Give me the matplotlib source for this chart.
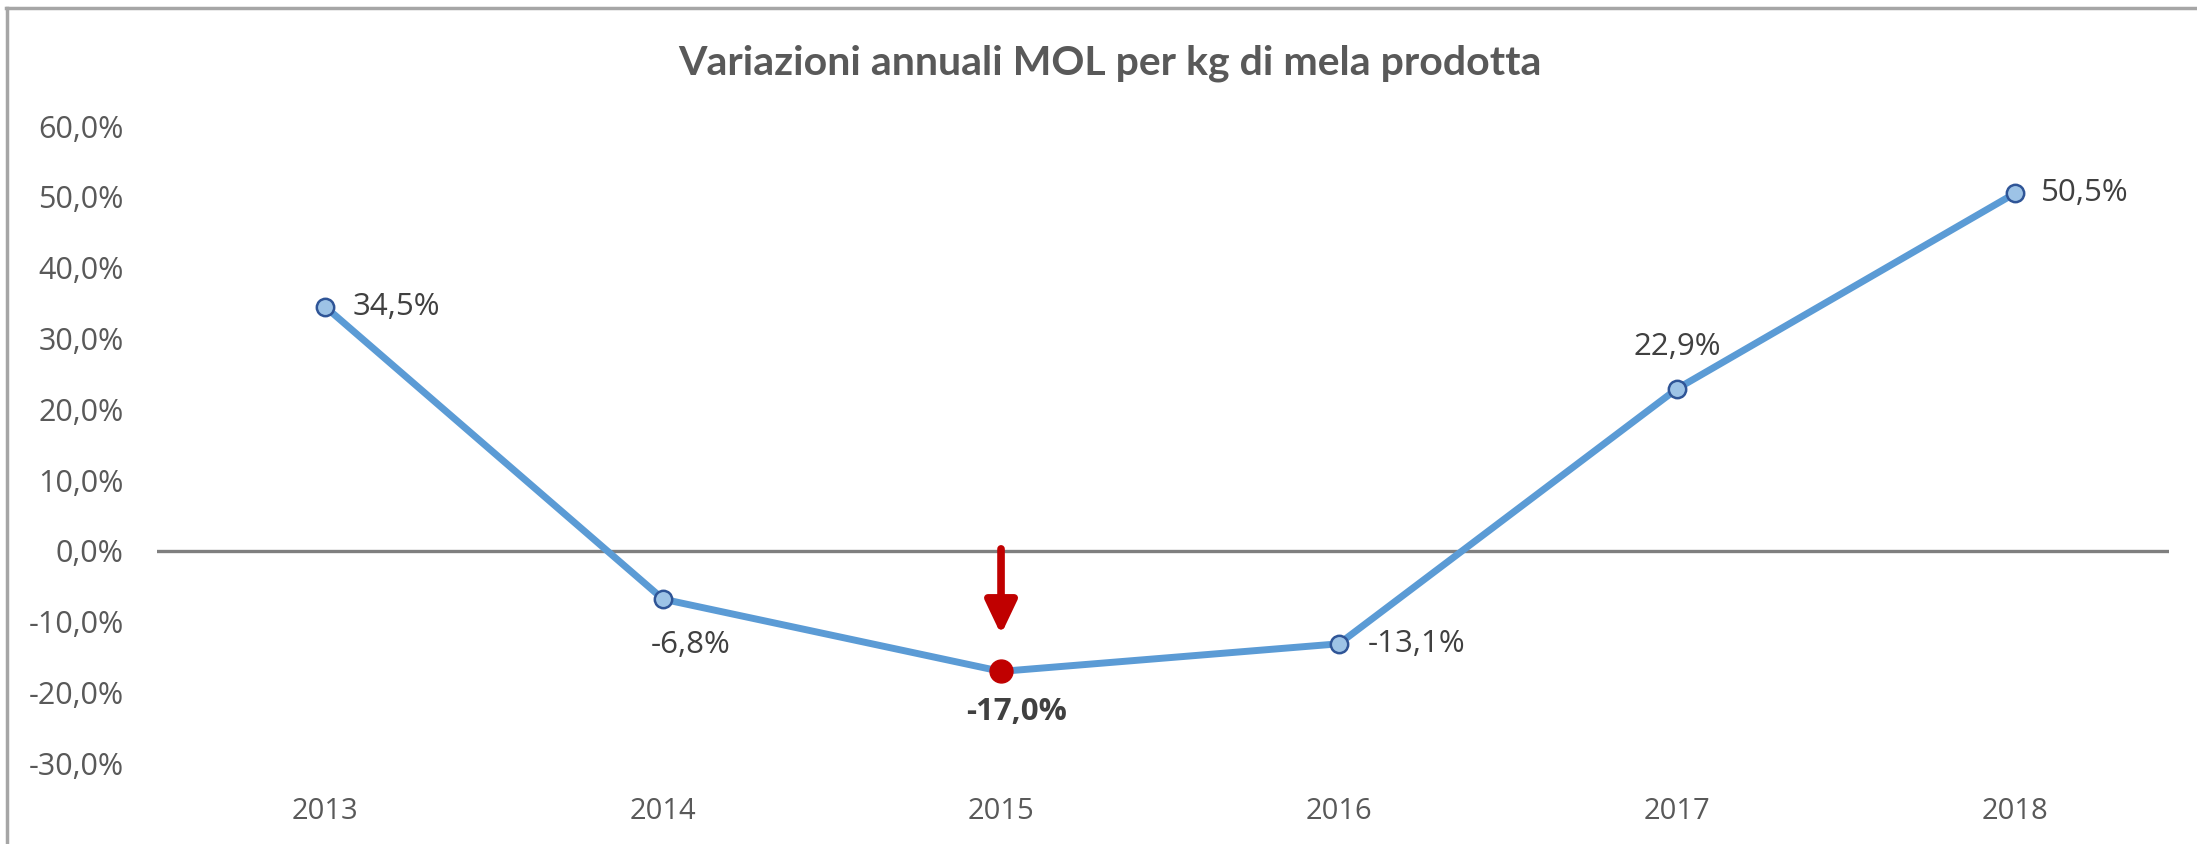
import matplotlib
matplotlib.use("Agg")
from matplotlib import pyplot as plt
from matplotlib.lines import Line2D

years = ["2013", "2014", "2015", "2016", "2017", "2018"]
values = [0.345, -0.068, -0.170, -0.131, 0.229, 0.505]
labels = ["34,5%", "-6,8%", "-17,0%", "-13,1%", "22,9%", "50,5%"]
yticks = [-0.3, -0.2, -0.1, 0.0, 0.1, 0.2, 0.3, 0.4, 0.5, 0.6]
highlight = 2  # 2015

plt.rcParams['font.family'] = ['Open Sans', 'DejaVu Sans']

fig = plt.figure(figsize=(21.97, 8.44), dpi=100)
ax = fig.add_axes([0.0715, 0.0954, 0.9158, 0.7553])

x = list(range(len(years)))
ax.axhline(0, color='#7F7F7F', lw=2.4, zorder=1)
ax.plot(x, values, color='#5B9BD5', lw=5, zorder=2, solid_capstyle='round')
others = [i for i in x if i != highlight]
ax.plot(others, [values[i] for i in others], 'o', ms=12.5, mfc='#9DC3E6',
        mec='#2F5597', mew=1.8, zorder=3)
ax.plot([highlight], [values[highlight]], 'o', ms=16.5, mfc='#C00000',
        mec='#C00000', zorder=3)

# arrow pointing at the 2015 minimum
ax.annotate('', xy=(highlight, -0.118), xytext=(highlight, 0.003),
            arrowprops=dict(arrowstyle='-|>,head_width=0.95,head_length=2.0',
                            color='#C00000', lw=5.5, shrinkA=0, shrinkB=0),
            zorder=4)

# data labels: offsets in points
offsets = [(20, 0, 'left'), (20, -33, 'center'), (11, -29, 'center'),
           (21, 0, 'left'), (0, 30, 'center'), (19, 0, 'left')]
for i, (dx, dy, ha) in enumerate(offsets):
    ax.annotate(labels[i], (x[i], values[i]), xytext=(dx, dy),
                textcoords='offset points', ha=ha, va='center',
                fontsize=22.5, color='#404040',
                fontweight='bold' if i == highlight else 'normal')

ax.set_xlim(-0.497, 5.456)
ax.set_ylim(-0.3, 0.6)
ax.set_yticks(yticks)
ax.set_yticklabels([f"{v*100:.1f}%".replace('.', ',') for v in yticks])
ax.set_xticks(x)
ax.set_xticklabels(years)
ax.tick_params(axis='y', length=0, pad=24, labelsize=22, labelcolor='#595959')
ax.tick_params(axis='x', length=0, pad=24, labelsize=21, labelcolor='#595959')
for s in ax.spines.values():
    s.set_visible(False)

fig.text(0.505, 0.925, "Variazioni annuali MOL per kg di mela prodotta",
         ha='center', va='center', fontsize=29.5, fontweight='bold',
         color='#595959', family=['Lato', 'DejaVu Sans'])

# chart frame (top and left edges visible)
fig.add_artist(Line2D([6 / 2197, 1], [1 - 8 / 844, 1 - 8 / 844],
                      transform=fig.transFigure, color='#A6A6A6', lw=2.5))
fig.add_artist(Line2D([7 / 2197, 7 / 2197], [0, 1 - 8 / 844],
                      transform=fig.transFigure, color='#A6A6A6', lw=2.5))

fig.savefig('out.png', dpi=100, facecolor='white')
